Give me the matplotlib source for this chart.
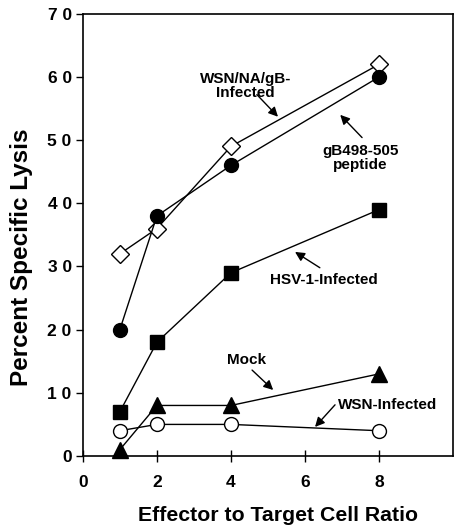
import matplotlib.pyplot as plt

plt.rcParams['font.family'] = ['Liberation Sans', 'DejaVu Sans']
plt.rcParams['font.weight'] = 'bold'

ratio = [1, 2, 4, 8]
wsn_na_gb = [32, 36, 49, 62]
gb_peptide = [20, 38, 46, 60]
hsv1 = [7, 18, 29, 39]
mock = [1, 8, 8, 13]
wsn = [4, 5, 5, 4]

xticks = [0, 2, 4, 6, 8]
yticks = [0, 10, 20, 30, 40, 50, 60, 70]

fig = plt.figure(figsize=(4.55, 5.29), dpi=100)
ax = fig.add_axes([0.182, 0.138, 0.814, 0.836])

kw = dict(color='black', lw=1.0, clip_on=False, zorder=3)
ax.plot(ratio, wsn_na_gb, marker='D', ms=9, mfc='white', mec='black', mew=1.0, **kw)
ax.plot(ratio, gb_peptide, marker='o', ms=10, mfc='black', mec='black', **kw)
ax.plot(ratio, hsv1, marker='s', ms=9.5, mfc='black', mec='black', **kw)
ax.plot(ratio, mock, marker='^', ms=11, mfc='black', mec='black', **kw)
ax.plot(ratio, wsn, marker='o', ms=10, mfc='white', mec='black', mew=1.0, **kw)

ax.set_xlim(0, 10)
ax.set_ylim(0, 70)
ax.set_xticks(xticks)
ax.set_yticks(yticks)
ax.set_xticklabels([str(t) for t in xticks], fontsize=12.5, fontweight='bold')
ax.set_yticklabels([' '.join(str(t)) for t in yticks], fontsize=12.5, fontweight='bold')
ax.tick_params(axis='x', direction='inout', length=8, width=1, pad=10)
ax.tick_params(axis='y', direction='out', length=5, width=1, pad=3)
for s in ax.spines.values():
    s.set_linewidth(1.2)

ax.set_xlabel('Effector to Target Cell Ratio', fontsize=15.3, fontweight='bold')
ax.set_ylabel('Percent Specific Lysis', fontsize=17.5, fontweight='bold')
ax.xaxis.set_label_coords(0.527, -0.113)
ax.yaxis.set_label_coords(-0.135, 0.45)

arrow = dict(arrowstyle='-|>', color='black', lw=1.0, mutation_scale=14, shrinkA=0, shrinkB=0)
tkw = dict(fontsize=11, fontweight='bold', ha='center', va='center', linespacing=1.0)

ax.annotate('', xy=(5.27, 53.7), xytext=(4.7, 57.2), arrowprops=arrow)
ax.text(4.4, 58.6, 'WSN/NA/gB-\nInfected', **tkw)

ax.annotate('', xy=(6.95, 54.0), xytext=(7.54, 50.4), arrowprops=arrow)
ax.text(7.5, 47.2, 'gB498-505\npeptide', **tkw)

ax.annotate('', xy=(5.73, 32.3), xytext=(6.4, 29.8), arrowprops=arrow)
ax.text(6.51, 27.9, 'HSV-1-Infected', **tkw)

ax.annotate('', xy=(5.14, 10.45), xytext=(4.57, 13.6), arrowprops=arrow)
ax.text(4.41, 15.2, 'Mock', **tkw)

ax.annotate('', xy=(6.27, 4.6), xytext=(6.81, 8.1), arrowprops=arrow)
ax.text(8.24, 8.1, 'WSN-Infected', **tkw)

fig.savefig('out.png', dpi=100)
